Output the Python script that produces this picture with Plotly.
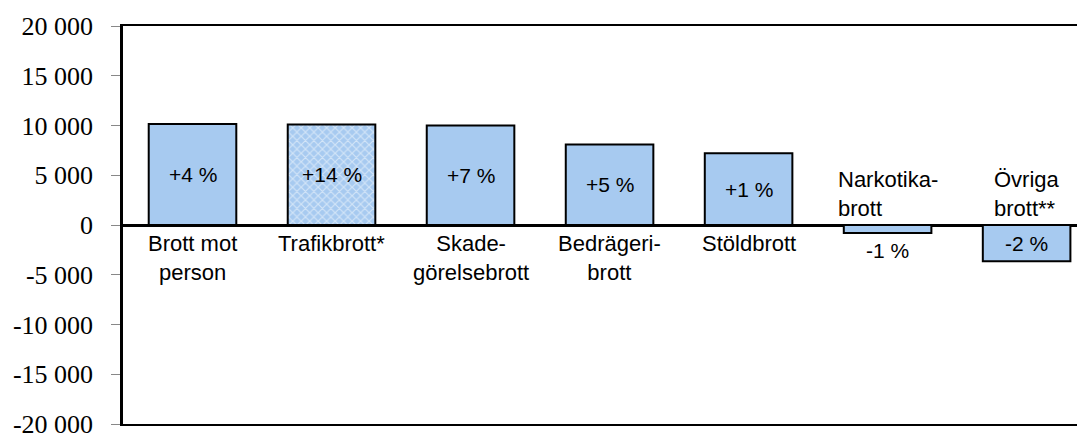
import plotly.graph_objects as go

categories = ["Brott mot<br>person", "Trafikbrott*", "Skade-<br>görelsebrott", "Bedrägeri-<br>brott",
              "Stöldbrott", "Narkotika-<br>brott", "Övriga<br>brott**"]
values = [10150, 10100, 10000, 8100, 7200, -800, -3650]
pct_labels = ["+4 %", "+14 %", "+7 %", "+5 %", "+1 %", "-1 %", "-2 %"]
tick_vals = [-20000, -15000, -10000, -5000, 0, 5000, 10000, 15000, 20000]
tick_text = ["-20 000", "-15 000", "-10 000", "-5 000", "0", "5 000", "10 000", "15 000", "20 000"]

BLUE = "#A7CAF0"
x = list(range(len(categories)))
FONT = dict(family="Liberation Sans, Arial", size=22, color="black")
PFONT = dict(family="Liberation Sans, Arial", size=21, color="black")

fig = go.Figure()
fig.add_trace(go.Bar(
    x=x, y=values, width=0.63,
    marker=dict(
        color=BLUE,
        line=dict(color="black", width=2),
        pattern=dict(
            shape=["", "x", "", "", "", "", ""],
            fgcolor="white", bgcolor=BLUE, size=6, solidity=0.35,
        ),
    ),
    hoverinfo="skip",
))

annotations = []
for i, (v, p, c) in enumerate(zip(values, pct_labels, categories)):
    if v >= 0:
        annotations.append(dict(x=i, y=v / 2, text=p, showarrow=False, font=PFONT))
        annotations.append(dict(x=i, y=0, yshift=-4, text=c, showarrow=False, yanchor="top", font=FONT))
    else:
        annotations.append(dict(x=i, y=0, yshift=2, text=c, showarrow=False, yanchor="bottom",
                                align="left", font=FONT))
        if v > -2000:
            annotations.append(dict(x=i, y=v, yshift=-4, text=p, showarrow=False, yanchor="top", font=PFONT))
        else:
            annotations.append(dict(x=i, y=v / 2, text=p, showarrow=False, font=PFONT))

fig.update_layout(
    width=1077, height=425,
    margin=dict(l=115, r=0, t=18, b=9, autoexpand=False),
    paper_bgcolor="white", plot_bgcolor="white",
    showlegend=False,
    annotations=annotations,
    xaxis=dict(range=[-0.5, 6.42], showticklabels=False, ticks="",
               showline=True, mirror=True, linecolor="black", linewidth=2,
               showgrid=False, zeroline=False, automargin=False),
    yaxis=dict(range=[-20000, 20000], tickvals=tick_vals, ticktext=tick_text,
               showline=True, linecolor="black", linewidth=2.5,
               ticks="outside", ticklen=9, tickcolor="#888888", tickwidth=1,
               ticklabelstandoff=13, ticklabeloverflow="allow", automargin=False,
               showgrid=False, zeroline=True, zerolinecolor="black", zerolinewidth=2.5,
               tickfont=dict(family="Liberation Serif, Times New Roman", size=26, color="black")),
)

fig.write_html("out.html")
